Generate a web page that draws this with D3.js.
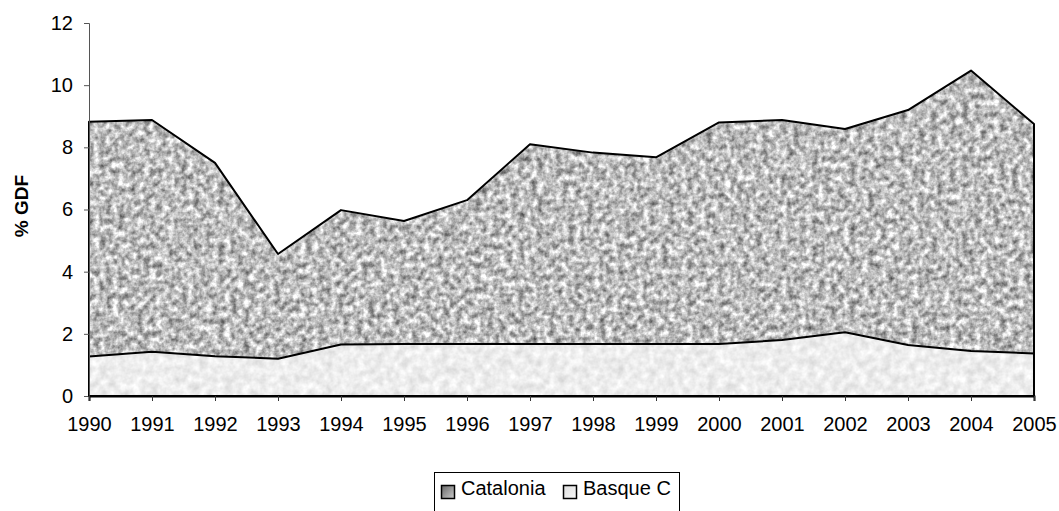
<!DOCTYPE html>
<html>
<head>
<meta charset="utf-8">
<script src="https://cdn.jsdelivr.net/npm/d3@7"></script>
<style>
  body { margin: 0; background: #fff; }
  text { font-family: "Liberation Sans", Arial, sans-serif; }
</style>
</head>
<body>
<div id="chart"></div>
<script>
// Datos: % GDF por año
const years = [1990, 1991, 1992, 1993, 1994, 1995, 1996, 1997, 1998, 1999, 2000, 2001, 2002, 2003, 2004, 2005];
const catalonia = [8.82, 8.88, 7.5, 4.57, 5.98, 5.63, 6.3, 8.1, 7.83, 7.68, 8.8, 8.88, 8.59, 9.2, 10.47, 8.75];
const basque = [1.27, 1.42, 1.28, 1.2, 1.66, 1.67, 1.67, 1.67, 1.67, 1.67, 1.67, 1.8, 2.05, 1.64, 1.45, 1.37];
const yTicks = [0, 2, 4, 6, 8, 10, 12];
const seriesNames = ["Catalonia", "Basque C"];

const width = 1059, height = 511;
const margin = { top: 23, right: 25, bottom: 115, left: 89 };

const svg = d3.select("#chart").append("svg")
  .attr("width", width)
  .attr("height", height);

// Texturas (ruido gris) como filtros
const defs = svg.append("defs");
function textura(id, k, off, freq, seed) {
  const f = defs.append("filter").attr("id", id)
    .attr("x", 0).attr("y", 0).attr("width", 1).attr("height", 1)
    .attr("color-interpolation-filters", "sRGB");
  f.append("feTurbulence").attr("type", "fractalNoise")
    .attr("baseFrequency", freq).attr("numOctaves", 3).attr("seed", seed).attr("result", "n");
  f.append("feColorMatrix").attr("in", "n").attr("type", "matrix")
    .attr("values", `${k} 0 0 0 ${off}  ${k} 0 0 0 ${off}  ${k} 0 0 0 ${off}  0 0 0 0 1`)
    .attr("result", "g");
  f.append("feComposite").attr("in", "g").attr("in2", "SourceGraphic").attr("operator", "in");
}
textura("texDark", 1.0, 0.24, 0.16, 4);
textura("texLight", 0.22, 0.82, 0.12, 9);

const x = d3.scaleLinear()
  .domain(d3.extent(years))
  .range([margin.left, width - margin.right]);

const y = d3.scaleLinear()
  .domain([0, 12])
  .range([height - margin.bottom, margin.top]);

const areaCat = d3.area()
  .x((d, i) => x(years[i]))
  .y0(y(0))
  .y1(d => y(d));

// Catalonia
svg.append("path")
  .datum(catalonia)
  .attr("d", areaCat)
  .attr("fill", "#999")
  .attr("filter", "url(#texDark)");
svg.append("path")
  .datum(catalonia)
  .attr("d", areaCat)
  .attr("fill", "none")
  .attr("stroke", "#000")
  .attr("stroke-width", 2)
  .attr("stroke-linejoin", "round");

// Basque C
svg.append("path")
  .datum(basque)
  .attr("d", areaCat)
  .attr("fill", "#eee")
  .attr("filter", "url(#texLight)");
svg.append("path")
  .datum(basque)
  .attr("d", areaCat)
  .attr("fill", "none")
  .attr("stroke", "#000")
  .attr("stroke-width", 2)
  .attr("stroke-linejoin", "round");

// Ejes
const yAxis = svg.append("g")
  .attr("transform", `translate(${margin.left},0)`)
  .call(d3.axisLeft(y).tickValues(yTicks).tickFormat(d3.format("d")).tickSize(5).tickPadding(11));
yAxis.select(".domain").attr("stroke", "#555");
yAxis.selectAll(".tick line").attr("stroke", "#555");
yAxis.selectAll("text").style("font-size", "20px").attr("fill", "#000");

const xAxis = svg.append("g")
  .attr("transform", `translate(0,${y(0)})`)
  .call(d3.axisBottom(x).tickValues(years).tickFormat(d3.format("d")).tickSize(5).tickPadding(16));
xAxis.select(".domain").attr("stroke", "#000").attr("stroke-width", 2);
xAxis.selectAll(".tick line").attr("stroke", "#333");
xAxis.selectAll("text").style("font-size", "20px").attr("fill", "#000");

// Título eje Y
svg.append("text")
  .attr("transform", `translate(28,206) rotate(-90)`)
  .attr("text-anchor", "middle")
  .style("font-size", "19px")
  .style("font-weight", "bold")
  .text("% GDF");

// Leyenda
const legend = svg.append("g");
legend.append("rect")
  .attr("x", 434.5).attr("y", 472.5)
  .attr("width", 245).attr("height", 60)
  .attr("fill", "#fff").attr("stroke", "#000");

const lg = defs.append("linearGradient").attr("id", "swDark")
  .attr("x1", 0).attr("y1", 0).attr("x2", 1).attr("y2", 1);
lg.append("stop").attr("offset", 0).attr("stop-color", "#666");
lg.append("stop").attr("offset", 1).attr("stop-color", "#ccc");
const lg2 = defs.append("linearGradient").attr("id", "swLight")
  .attr("x1", 0).attr("y1", 0).attr("x2", 1).attr("y2", 1);
lg2.append("stop").attr("offset", 0).attr("stop-color", "#ddd");
lg2.append("stop").attr("offset", 1).attr("stop-color", "#f8f8f8");

const legX = [441, 563];
const legFill = ["url(#swDark)", "url(#swLight)"];
seriesNames.forEach((name, i) => {
  legend.append("rect")
    .attr("x", legX[i] + 0.5).attr("y", 485.5)
    .attr("width", 13).attr("height", 13)
    .attr("fill", legFill[i]).attr("stroke", "#000").attr("stroke-width", 1.5);
  legend.append("text")
    .attr("x", legX[i] + 20).attr("y", 495)
    .style("font-size", "20px")
    .text(name);
});
</script>
</body>
</html>
